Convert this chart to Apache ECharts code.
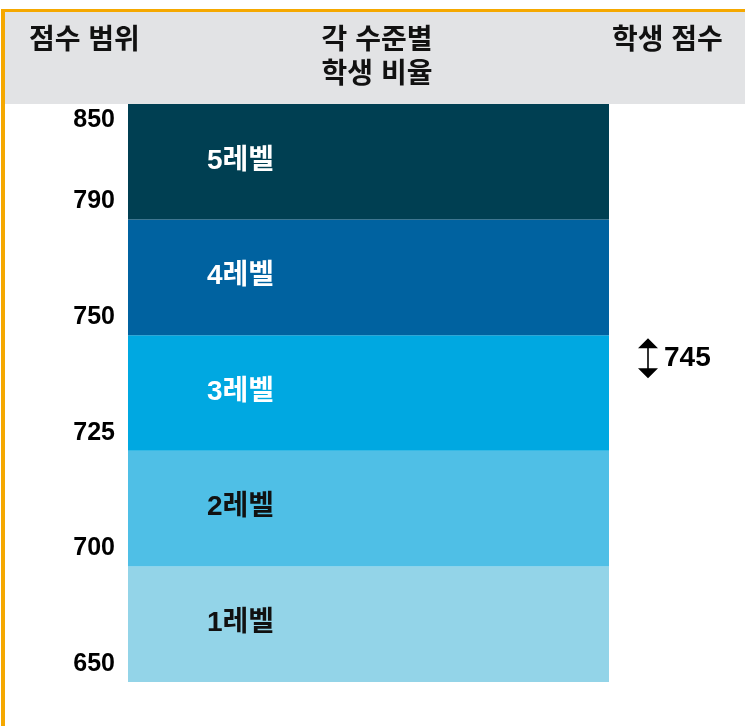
<!DOCTYPE html>
<html>
<head>
<meta charset="utf-8">
<script src="https://cdn.jsdelivr.net/npm/echarts@6/dist/echarts.min.js"></script>
<style>
  html, body { margin: 0; padding: 0; background: #fff; }
  #chart { width: 745px; height: 726px; }
</style>
</head>
<body>
<div id="chart"></div>
<script>
// Score boundaries, bottom to top; each level occupies one equal band between two of them.
const scoreBreaks = [650, 700, 725, 750, 790, 850];
const levels = ['1레벨', '2레벨', '3레벨', '4레벨', '5레벨'];
const levelHeights = [1, 1, 1, 1, 1];
const levelColors = ['#93D4E8', '#4FBFE6', '#00A8E1', '#0062A0', '#003F52'];
const levelTextColors = ['#111', '#111', '#fff', '#fff', '#fff'];
const studentScore = 745;

const FONT = '"Liberation Sans", "Noto Sans CJK KR", sans-serif';

// piecewise map of a score onto the equal-band axis
function bandPos(score) {
  for (let i = 0; i < scoreBreaks.length - 1; i++) {
    const lo = scoreBreaks[i], hi = scoreBreaks[i + 1];
    if (score >= lo && score <= hi) return i + (score - lo) / (hi - lo);
  }
  return 0;
}

const chart = echarts.init(document.getElementById('chart'), null, { renderer: 'canvas' });

const bandAxis = (gridIndex, show) => ({
  type: 'value', gridIndex, min: 0, max: levels.length, interval: 1,
  axisLine: { show: false }, axisTick: { show: false }, splitLine: { show: false },
  axisLabel: show ? {
    margin: 13,
    fontFamily: FONT,
    formatter: (v) => (v === levels.length ? '{top|' : '{mid|') + scoreBreaks[v] + '}',
    rich: {
      top: { fontSize: 25, fontWeight: 'bold', color: '#000', fontFamily: FONT, padding: [32, 0, 0, 0] },
      mid: { fontSize: 25, fontWeight: 'bold', color: '#000', fontFamily: FONT, padding: [0, 0, 36, 0] }
    }
  } : { show: false }
});

const headerStyle = (text, align) => ({
  text, fill: '#111', font: 'bold 28px ' + FONT, align, lineHeight: 34
});

chart.setOption({
  animation: false,
  graphic: [
    { type: 'rect', shape: { x: 1, y: 9, width: 744, height: 3 }, style: { fill: '#F5A800' }, z: -1 },
    { type: 'rect', shape: { x: 1, y: 9, width: 4, height: 717 }, style: { fill: '#F5A800' }, z: -1 },
    { type: 'rect', shape: { x: 5, y: 12, width: 740, height: 92 }, style: { fill: '#E2E3E5' }, z: -1 },
    { type: 'text', x: 29, y: 24, style: headerStyle('점수 범위', 'left') },
    { type: 'text', x: 377, y: 24, style: headerStyle('각 수준별\n학생 비율', 'center') },
    { type: 'text', x: 612, y: 24, style: headerStyle('학생 점수', 'left') }
  ],
  grid: [
    { left: 128, width: 481, top: 104, bottom: 44 },
    { left: 609, width: 78, top: 104, bottom: 44 }
  ],
  xAxis: [
    { type: 'category', gridIndex: 0, data: ['비율'], show: false },
    { type: 'category', gridIndex: 1, data: ['학생'], show: false }
  ],
  yAxis: [bandAxis(0, true), bandAxis(1, false)],
  series: levels.map((name, i) => ({
    type: 'bar', name, stack: 'levels', barWidth: '100%',
    xAxisIndex: 0, yAxisIndex: 0,
    data: [levelHeights[i]],
    itemStyle: { color: levelColors[i] },
    label: {
      show: true, position: 'insideLeft', offset: [74, -1],
      formatter: name, color: levelTextColors[i],
      fontSize: 28, fontWeight: 'bold', fontFamily: FONT
    }
  })).concat([{
    type: 'scatter', xAxisIndex: 1, yAxisIndex: 1,
    data: [['학생', bandPos(studentScore)]],
    symbol: 'path://M10,0 L20,10 L10.8,10 L10.8,30 L20,30 L10,40 L0,30 L9.2,30 L9.2,10 L0,10 Z',
    symbolSize: [20, 40],
    itemStyle: { color: '#000', opacity: 1 },
    label: {
      show: true, position: 'right', distance: 6,
      formatter: String(studentScore), color: '#000',
      fontSize: 28, fontWeight: 'bold', fontFamily: FONT
    }
  }])
});
</script>
</body>
</html>
